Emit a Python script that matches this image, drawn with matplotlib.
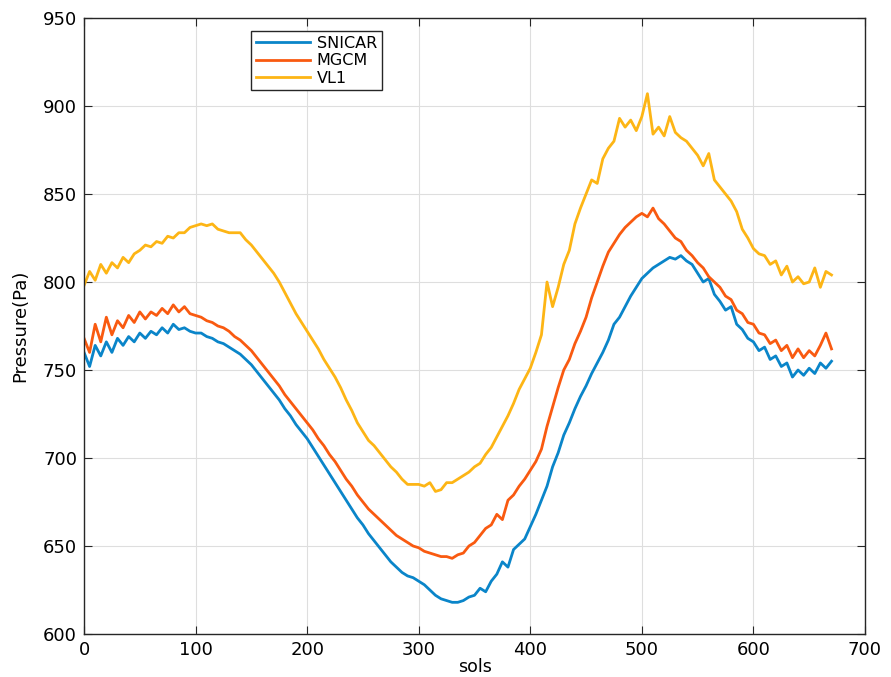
import matplotlib.pyplot as plt
import numpy as np

# sols sampled every 5
sols = np.arange(0, 675, 5)

snicar = [760, 752, 764, 758, 766, 760, 768, 764, 769, 766, 771, 768, 772, 770, 774, 771, 776, 773, 774, 772,
          771, 771, 769, 768, 766, 765, 763, 761, 759, 756, 753, 749, 745, 741, 737, 733, 728, 724, 719, 715,
          711, 706, 701, 696, 691, 686, 681, 676, 671, 666, 662, 657, 653, 649, 645, 641, 638, 635, 633, 632,
          630, 628, 625, 622, 620, 619, 618, 618, 619, 621, 622, 626, 624, 630, 634, 641, 638, 648, 651, 654,
          661, 668, 676, 684, 695, 703, 713, 720, 728, 735, 741, 748, 754, 760, 767, 776, 780, 786, 792, 797,
          802, 805, 808, 810, 812, 814, 813, 815, 812, 810, 805, 800, 802, 793, 789, 784, 786, 776, 773, 768,
          766, 761, 763, 756, 758, 752, 754, 746, 750, 747, 751, 748, 754, 751, 755]

mgcm = [768, 760, 776, 766, 780, 770, 778, 774, 781, 777, 783, 779, 783, 781, 785, 782, 787, 783, 786, 782,
        781, 780, 778, 777, 775, 774, 772, 769, 767, 764, 761, 757, 753, 749, 745, 741, 736, 732, 728, 724,
        720, 716, 711, 707, 702, 698, 693, 688, 684, 679, 675, 671, 668, 665, 662, 659, 656, 654, 652, 650,
        649, 647, 646, 645, 644, 644, 643, 645, 646, 650, 652, 656, 660, 662, 668, 665, 676, 679, 684, 688,
        693, 698, 705, 718, 729, 740, 750, 756, 765, 772, 780, 791, 800, 809, 817, 822, 827, 831, 834, 837,
        839, 837, 842, 836, 833, 829, 825, 823, 818, 815, 811, 808, 803, 800, 797, 792, 790, 784, 782, 777,
        776, 771, 770, 765, 767, 761, 764, 757, 762, 757, 761, 758, 764, 771, 762]

vl1 = [798, 806, 801, 810, 805, 811, 808, 814, 811, 816, 818, 821, 820, 823, 822, 826, 825, 828, 828, 831,
       832, 833, 832, 833, 830, 829, 828, 828, 828, 824, 821, 817, 813, 809, 805, 800, 794, 788, 782, 777,
       772, 767, 762, 756, 751, 746, 740, 733, 727, 720, 715, 710, 707, 703, 699, 695, 692, 688, 685, 685,
       685, 684, 686, 681, 682, 686, 686, 688, 690, 692, 695, 697, 702, 706, 712, 718, 724, 731, 739, 745,
       751, 760, 770, 800, 786, 797, 810, 818, 833, 842, 850, 858, 856, 870, 876, 880, 893, 888, 892, 886,
       894, 907, 884, 888, 883, 894, 885, 882, 880, 876, 872, 866, 873, 858, 854, 850, 846, 840, 830, 825,
       819, 816, 815, 810, 812, 804, 809, 800, 803, 799, 800, 808, 797, 806, 804]

fig = plt.figure(figsize=(8.91, 6.77), dpi=100)
ax = fig.add_axes([0.0943, 0.0635, 0.8765, 0.9099])

ax.plot(sols, snicar, color='#0A85C9', lw=2, label='SNICAR')
ax.plot(sols, mgcm, color='#F95A10', lw=2, label='MGCM')
ax.plot(sols, vl1, color='#FDB515', lw=2, label='VL1')

ax.set_xlim(0, 700)
ax.set_ylim(600, 950)
ax.set_xticks(range(0, 701, 100))
ax.set_yticks(range(600, 951, 50))
ax.grid(True, color='#DEDEDE', lw=0.8)
ax.tick_params(direction='in', top=True, right=True, length=6, labelsize=13, color='#262626', pad=5)
for s in ax.spines.values():
    s.set_color('#262626')
    s.set_linewidth(1)

ax.set_xlabel('sols', fontsize=12.5, labelpad=-1)
ax.set_ylabel('Pressure(Pa)', fontsize=13, labelpad=10)

leg = ax.legend(loc='upper left', bbox_to_anchor=(0.214, 0.979), fontsize=11.5,
                fancybox=False, framealpha=1, edgecolor='#262626', handlelength=3.4,
                borderpad=0.3, labelspacing=0.15, handletextpad=0.4, borderaxespad=0)
leg.get_frame().set_linewidth(1)

fig.savefig('out.png', dpi=100)
